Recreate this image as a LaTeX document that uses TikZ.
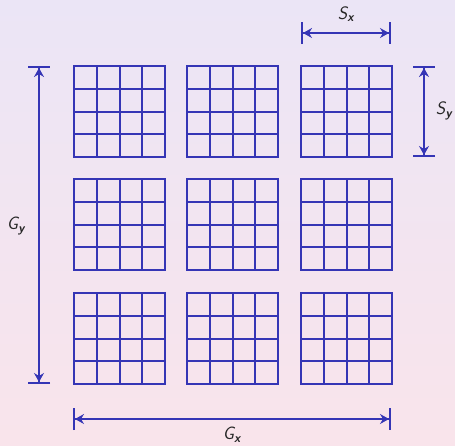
\documentclass[tikz,border=0pt]{standalone}
\usetikzlibrary{arrows.meta}
\definecolor{ink}{HTML}{3535B5}
\definecolor{bgtop}{HTML}{EBE5F6}
\definecolor{bgbot}{HTML}{F9E4EB}
\tikzset{
  cellgrid/.style={draw=ink, line width=2pt, line cap=rect},
  dimarrow/.style={draw=ink, line width=2pt,
    {Bar[width=22pt,line width=2pt]Stealth[length=9pt,width=10pt,inset=3pt]}-{Stealth[length=9pt,width=10pt,inset=3pt]Bar[width=22pt,line width=2pt]}},
  dimlabel/.style={font=\sffamily\itshape\fontsize{18}{20}\selectfont, text=black!85, inner sep=1pt}
}
\newcommand{\dlab}[2]{#1\textsubscript{\bfseries #2}}
\begin{document}
\begin{tikzpicture}[x=1pt,y=-1pt]
  \shade[top color=bgtop, bottom color=bgbot] (0,0) rectangle (455,445);
  \useasboundingbox (0,0) rectangle (455,445);
  \foreach \i in {0,1,2}{
    \foreach \j in {0,1,2}{
      \pgfmathsetmacro{\xa}{round(74+113.3*\i)}
      \pgfmathsetmacro{\ya}{round(66+113.3*\j)}
      \pgfmathsetmacro{\xb}{\xa+91}
      \pgfmathsetmacro{\yb}{\ya+91}
      \foreach \k in {0,1,2,3,4}{
        \pgfmathsetmacro{\xk}{round(\xa+22.75*\k)}
        \pgfmathsetmacro{\yk}{round(\ya+22.75*\k)}
        \draw[cellgrid] (\xk,\ya) -- (\xk,\yb);
        \draw[cellgrid] (\xa,\yk) -- (\xb,\yk);
      }
    }
  }
  \coordinate (gyt) at (39,66);
  \coordinate (gyb) at (39,384);
  \coordinate (gxl) at (73,419);
  \coordinate (gxr) at (391,419);
  \coordinate (sxl) at (301,33);
  \coordinate (sxr) at (391,33);
  \coordinate (syt) at (424,66);
  \coordinate (syb) at (424,157);
  \draw[dimarrow] (gyt) -- (gyb);
  \draw[dimarrow] (gxl) -- (gxr);
  \draw[dimarrow] (sxl) -- (sxr);
  \draw[dimarrow] (syt) -- (syb);
  \node[dimlabel] (lgy) at (16,226) {\dlab{G}{y}};
  \node[dimlabel] (lgx) at (232,435) {\dlab{G}{x}};
  \node[dimlabel] (lsx) at (346,14) {\dlab{S}{x}};
  \node[dimlabel] (lsy) at (444,111) {\dlab{S}{y}};
\end{tikzpicture}
\end{document}
